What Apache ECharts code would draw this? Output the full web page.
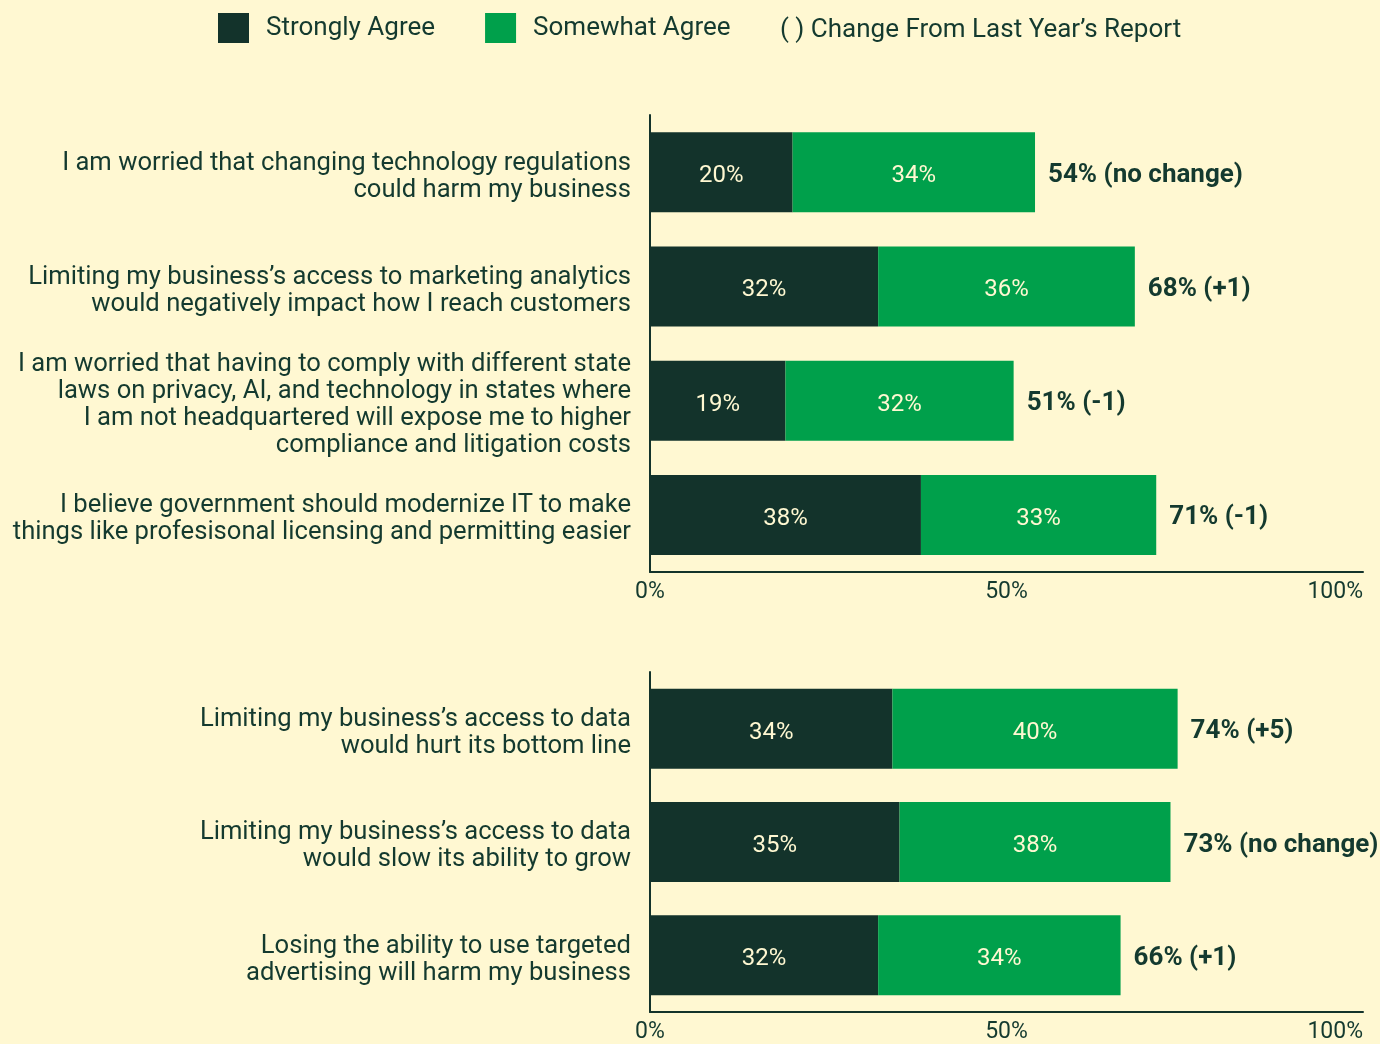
<!DOCTYPE html>
<html>
<head>
<meta charset="utf-8">
<script src="https://cdn.jsdelivr.net/npm/echarts@6/dist/echarts.min.js"></script>
<style>
html, body { margin: 0; padding: 0; background: #fff8d2; }
#chart { width: 1380px; height: 1044px; }
</style>
</head>
<body>
<div id="chart"></div>
<script>
// 数据
var topCategories = [
	'I am worried that changing technology regulations\ncould harm my business',
	'Limiting my business\u2019s access to marketing analytics\nwould negatively impact how I reach customers',
	'I am worried that having to comply with different state\nlaws on privacy, AI, and technology in states where\nI am not headquartered will expose me to higher\ncompliance and litigation costs',
	'I believe government should modernize IT to make\nthings like profesisonal licensing and permitting easier'
];
var topStrongly = [20, 32, 19, 38];
var topSomewhat = [34, 36, 32, 33];
var topChange = ['no change', '+1', '-1', '-1'];

var bottomCategories = [
	'Limiting my business\u2019s access to data\nwould hurt its bottom line',
	'Limiting my business\u2019s access to data\nwould slow its ability to grow',
	'Losing the ability to use targeted\nadvertising will harm my business'
];
var bottomStrongly = [34, 35, 32];
var bottomSomewhat = [40, 38, 34];
var bottomChange = ['+5', 'no change', '+1'];

var xTicks = [0, 50, 100];

var dark = '#13332b';
var green = '#00a04b';
var textColor = '#143a2f';
var cream = '#fff8d2';
var font = 'Roboto';

function sum(a, b) {
	return a.map(function(v, i) { return v + b[i]; });
}

function yAxis(idx, cats) {
	return {
		type: 'category', gridIndex: idx, data: cats, inverse: true,
		axisLine: { show: true, lineStyle: { color: dark, width: 2 } },
		axisTick: { show: false },
		axisLabel: {
			color: textColor, fontSize: 25.6, fontFamily: font, lineHeight: 27, margin: 19, align: 'right',
			// 空行把文字往下推一点
			formatter: function(v) { return '{s|}\n' + v; },
			rich: { s: { height: 9, lineHeight: 9, fontSize: 4 } }
		}
	};
}

function xAxis(idx) {
	return {
		type: 'value', gridIndex: idx, min: xTicks[0], max: xTicks[xTicks.length - 1], interval: 50,
		axisLine: { show: true, lineStyle: { color: dark, width: 2 } },
		axisTick: { show: false },
		splitLine: { show: false },
		axisLabel: { color: textColor, fontSize: 23, fontFamily: font, margin: 9, formatter: '{value}%', alignMaxLabel: 'right' }
	};
}

function barSeries(name, idx, stack, data, color) {
	return {
		name: name, type: 'bar', stack: stack, xAxisIndex: idx, yAxisIndex: idx,
		data: data, barWidth: 80,
		itemStyle: { color: color },
		label: { show: true, position: 'inside', color: cream, fontSize: 24, fontFamily: font, formatter: '{c}%', offset: [0, 4] }
	};
}

function totalSeries(idx, stack, strongly, somewhat, change) {
	var totals = sum(strongly, somewhat);
	return {
		name: 'total' + idx, type: 'bar', stack: stack, xAxisIndex: idx, yAxisIndex: idx,
		data: totals.map(function() { return 0; }), barWidth: 80,
		itemStyle: { color: 'transparent' },
		label: {
			show: true, position: 'right', distance: 13, offset: [0, 3],
			color: textColor, fontSize: 26, fontWeight: 'bold', fontFamily: font,
			formatter: function(p) { return totals[p.dataIndex] + '% (' + change[p.dataIndex] + ')'; }
		},
		silent: true
	};
}

var chart = echarts.init(document.getElementById('chart'));
chart.setOption({
	backgroundColor: cream,
	animation: false,
	legend: {
		data: ['Strongly Agree', 'Somewhat Agree'],
		left: 218, top: 13, padding: 0,
		itemWidth: 31, itemHeight: 30, itemGap: 50,
		icon: 'rect',
		textStyle: { color: textColor, fontSize: 26, fontFamily: font, padding: [0, 0, 0, 12] }
	},
	graphic: [{
		type: 'text', left: 780, top: 17,
		style: { text: '( ) Change From Last Year\u2019s Report', fill: textColor, fontSize: 26, fontFamily: font }
	}],
	grid: [
		{ left: 650, right: 17, top: 115, bottom: 472, containLabel: false },
		{ left: 650, right: 17, top: 672, bottom: 29, containLabel: false }
	],
	xAxis: [xAxis(0), xAxis(1)],
	yAxis: [yAxis(0, topCategories), yAxis(1, bottomCategories)],
	series: [
		barSeries('Strongly Agree', 0, 'a', topStrongly, dark),
		barSeries('Somewhat Agree', 0, 'a', topSomewhat, green),
		totalSeries(0, 'a', topStrongly, topSomewhat, topChange),
		barSeries('Strongly Agree', 1, 'b', bottomStrongly, dark),
		barSeries('Somewhat Agree', 1, 'b', bottomSomewhat, green),
		totalSeries(1, 'b', bottomStrongly, bottomSomewhat, bottomChange)
	]
});
</script>
</body>
</html>
